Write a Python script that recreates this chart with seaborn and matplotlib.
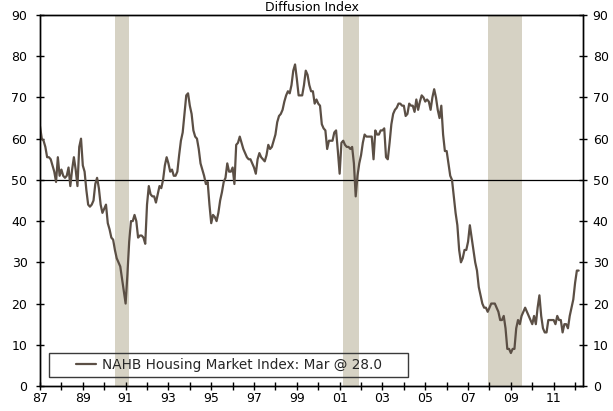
import numpy as np
import pandas as pd
import matplotlib
matplotlib.use("Agg")
import matplotlib.pyplot as plt
from matplotlib.patches import Rectangle
import seaborn as sns

# ---- data: NAHB Housing Market Index, monthly, Jan 1987 - Mar 2012 ----
hmi_1987 = [63, 60, 59.5, 58, 55.5, 55.5, 55, 53.5, 52, 49.5, 55.5, 51]
hmi_1988 = [52.5, 51, 50.5, 51, 53, 48.5, 52.5, 55.5, 52.5, 48.5, 58, 60]
hmi_1989 = [53.5, 52, 47.5, 44, 43.5, 44, 45, 49, 50.5, 48, 44, 42]
hmi_1990 = [43, 44, 39.5, 38, 36, 35.5, 33, 31, 30, 29, 26, 23]
hmi_1991 = [20, 27, 35, 40, 40, 41.5, 40, 36, 36.5, 36.5, 36, 34.5]
hmi_1992 = [44, 48.5, 46.5, 46, 46, 44.5, 46.5, 48.5, 48, 50, 53.5, 55.5]
hmi_1993 = [54, 52, 52.5, 51, 51, 52, 56, 59.5, 61.5, 66, 70.5, 71]
hmi_1994 = [68, 66, 62, 60.5, 60, 57.5, 54, 52.5, 51, 49, 49.5, 44]
hmi_1995 = [39.5, 41.5, 41, 40, 42, 45, 47, 49.5, 50.5, 54, 52, 52]
hmi_1996 = [53, 49, 58.5, 59, 60.5, 59, 57.5, 56.5, 55.5, 55, 55, 54]
hmi_1997 = [53, 51.5, 55, 56.5, 55.5, 55, 54.5, 56, 58.5, 57.5, 58, 59.5]
hmi_1998 = [61, 64, 65.5, 66, 67, 69, 70.5, 71.5, 71, 73, 76.5, 78]
hmi_1999 = [74.5, 70.5, 70.5, 70.5, 73, 76.5, 75.5, 73, 71.5, 71.5, 68.5, 69.5]
hmi_2000 = [68.5, 68, 63.5, 62.5, 62, 57.5, 59.5, 59.5, 59.5, 61.5, 62, 57]
hmi_2001 = [51.5, 59, 59.5, 58.5, 58, 58, 57.5, 58, 54, 46, 51, 54]
hmi_2002 = [56, 59, 61, 60.5, 60.5, 60.5, 60.5, 55, 62, 61, 61, 62]
hmi_2003 = [62, 62.5, 55.5, 55, 59, 63.5, 66, 67, 67.5, 68.5, 68.5, 68]
hmi_2004 = [68, 65.5, 66, 68.5, 68, 68, 66.5, 69.5, 67, 69, 70.5, 70]
hmi_2005 = [69, 69.5, 69, 67, 70, 72, 70, 67, 65, 68, 61, 57]
hmi_2006 = [57, 54, 51, 50, 46, 42, 39, 33, 30, 31, 33, 33]
hmi_2007 = [35, 39, 36, 33, 30, 28, 24, 22, 20, 19, 19, 18]
hmi_2008 = [19, 20, 20, 20, 19, 18, 16, 16, 17, 14, 9, 9]
hmi_2009 = [8, 9, 9, 14, 16, 15, 17, 18, 19, 18, 17, 16]
hmi_2010 = [15, 17, 15, 19, 22, 17, 14, 13, 13, 16, 16, 16]
hmi_2011 = [16, 15, 17, 16, 16, 13, 15, 15, 14, 17, 19, 21]
hmi_2012 = [25, 28, 28]

recession_starts = [1990.5, 2001.167, 2007.917]
recession_ends = [1991.167, 2001.917, 2009.5]

xtick_years = list(range(1987, 2012, 2))
xtick_labels = [f"{y % 100:02d}" for y in xtick_years]
ytick_values = list(range(0, 91, 10))
legend_label = "NAHB Housing Market Index: Mar @ 28.0"

hmi = (hmi_1987 + hmi_1988 + hmi_1989 + hmi_1990 + hmi_1991 + hmi_1992 +
       hmi_1993 + hmi_1994 + hmi_1995 + hmi_1996 + hmi_1997 + hmi_1998 +
       hmi_1999 + hmi_2000 + hmi_2001 + hmi_2002 + hmi_2003 + hmi_2004 +
       hmi_2005 + hmi_2006 + hmi_2007 + hmi_2008 + hmi_2009 + hmi_2010 +
       hmi_2011 + hmi_2012)
dates = pd.date_range("1987-01-01", periods=len(hmi), freq="MS")
df = pd.DataFrame({"t": dates.year + (dates.month - 1) / 12.0, "HMI": hmi})

# ---- figure ----
sns.set_style("ticks")
plt.rcParams["font.family"] = ["DejaVu Sans"]
plt.rcParams["font.size"] = 9

W, H = 613, 411
fig = plt.figure(figsize=(W / 100, H / 100), dpi=100)
L, R, T, B = 40, 583, 15, 386
ax = fig.add_axes([L / W, 1 - B / H, (R - L) / W, (B - T) / H])

band_color = "#d6d2c4"
line_color = "#5b4f45"

for s, e in zip(recession_starts, recession_ends):
    ax.axvspan(s, e, color=band_color, lw=0, zorder=0)
ax.axhline(50, color="black", lw=0.9, zorder=1)

sns.lineplot(data=df, x="t", y="HMI", ax=ax, color=line_color, lw=1.6,
             zorder=3, legend=False)

ax.set_xlim(1987.0, 2012.37)
ax.set_ylim(0, 90)
ax.set_xlabel("")
ax.set_ylabel("")
ax.set_xticks(xtick_years)
ax.set_xticklabels(xtick_labels)
ax.set_xticks(np.arange(1987, 2013, 1), minor=True)
ax.set_yticks(ytick_values)
ax.tick_params(axis="x", which="both", direction="inout", length=6, width=1,
               colors="black", pad=1.5, labelsize=9)
ax.tick_params(axis="y", which="both", direction="inout", length=6, width=1,
               colors="black", pad=6, labelsize=9, right=False)
for sp in ax.spines.values():
    sp.set_visible(True)
    sp.set_color("black")
    sp.set_linewidth(1)

ax2 = ax.twinx()
ax2.set_ylim(0, 90)
ax2.set_yticks(ytick_values)
ax2.tick_params(axis="y", direction="inout", length=6, width=1,
                colors="black", pad=4, labelsize=9)
for sp in ax2.spines.values():
    sp.set_visible(True)
    sp.set_color("black")
    sp.set_linewidth(1)

# legend
handle = plt.Line2D([], [], color=line_color, lw=1.6)
ax.legend([handle], [legend_label], frameon=False, loc="center",
          bbox_to_anchor=(0.3475, 0.0566), bbox_transform=ax.transAxes,
          fontsize=9.8, handlelength=1.5, handletextpad=0.4,
          borderpad=0, borderaxespad=0)
ax.add_patch(Rectangle((0.0171, 0.0234), 0.6606, 0.0663, transform=ax.transAxes,
                       facecolor="none", edgecolor="#3a3a3a", lw=1, zorder=5))

fig.text((L + R) / 2 / W, 1 - 11 / H, "Diffusion Index", ha="center",
         va="baseline", fontsize=9, color="black")

fig.savefig("out.png", dpi=100)
